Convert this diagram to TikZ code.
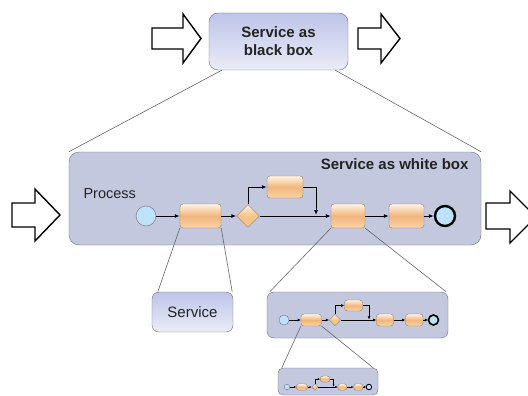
\documentclass[tikz,border=0pt]{standalone}
\usepackage{fontspec}
\setmainfont{Liberation Sans}
\usetikzlibrary{shapes.geometric,arrows.meta}

\definecolor{boxfill} {RGB}{196,200,222}
\definecolor{boxtop}  {RGB}{190,196,232}
\definecolor{boxbot}  {RGB}{234,236,247}
\definecolor{rim}     {RGB}{110,110,122}
\definecolor{taskmid} {RGB}{240,182,124}
\definecolor{tasklite}{RGB}{255,244,228}
\definecolor{taskbot} {RGB}{249,212,168}
\definecolor{taskrim} {RGB}{140,124,108}
\definecolor{gatefill}{RGB}{244,196,136}
\definecolor{evfill}  {RGB}{190,226,250}
\definecolor{lens}    {RGB}{100,100,100}
\definecolor{ink}     {RGB}{35,35,35}

\tikzset{
  task/.style={draw=taskrim, rounded corners=3pt, inner sep=0pt,
    top color=tasklite, bottom color=taskbot, middle color=taskmid},
  gate/.style={diamond, draw=taskrim, top color=tasklite, bottom color=gatefill,
    middle color=gatefill, inner sep=0pt, minimum width=23pt, minimum height=23pt},
  startev/.style={circle, draw=rim, fill=evfill, inner sep=0pt, minimum size=20pt},
  endrim/.style={line width=2.4pt},
  endev/.style={circle, draw=black, endrim, fill=evfill, inner sep=0pt, minimum size=20pt},
  flow/.style={-{Latex[length=5pt,width=4pt]}, line width=1pt},
  process/.pic={
    \node[startev] (-s) at (0,0) {};
    \node[task, minimum width=41pt, minimum height=24pt] (-t1) at (54.5,0) {};
    \node[gate] (-g) at (102,0) {};
    \node[task, minimum width=36pt, minimum height=22pt] (-tu) at (139,-29) {};
    \node[task, minimum width=34pt, minimum height=24pt] (-t2) at (202,0) {};
    \node[task, minimum width=35pt, minimum height=24pt] (-t3) at (260.5,0) {};
    \node[endev] (-e) at (299,0) {};
    \coordinate (-j) at (170,-1);
    \draw[flow] (-s) -- (-t1);
    \draw[flow] (-t1) -- (-g);
    \draw[flow] (-g) -- (-t2);
    \draw[flow] (-g.north) |- (-tu);
    \draw[flow] (-tu) -| (-j);
    \draw[flow] (-t2) -- (-t3);
    \draw[flow] (-t3) -- (-e);
  }
}

\begin{document}
\begin{tikzpicture}[x=1pt, y=-1pt,
    softbox/.style={draw=rim, rounded corners=9pt, top color=boxtop, bottom color=boxbot,
      text=ink, align=center},
    plainbox/.style={draw=rim, rounded corners=10pt, fill=boxfill},
    fat/.style={draw=black, line width=1.4pt, fill=white, line join=miter},
    zoomline/.style={draw=lens, line width=0.6pt}]
  \useasboundingbox (0,0) rectangle (528,396);
  \clip (0,0) rectangle (528,396);

  % black box and its in/out arrows
  \node[softbox, minimum width=139pt, minimum height=57pt,
        font=\bfseries\fontsize{15}{18}\selectfont] (blackbox) at (278.5,41.5) {Service as\\black box};
  \draw[fat] (152,28) -- (183,28) -- (183,14) -- (201,38.5) -- (183,63) -- (183,49) -- (152,49) -- cycle;
  \draw[fat] (358,28) -- (381,28) -- (381,14) -- (400,38.5) -- (381,63) -- (381,49) -- (358,49) -- cycle;

  % white box
  \node[plainbox, minimum width=412pt, minimum height=93pt] (whitebox) at (275,198.5) {};
  \node[anchor=east, text=ink, font=\bfseries\fontsize{15}{18}\selectfont] (wbtitle) at (472,164) {Service as white box};
  \node[anchor=west, text=ink, font=\fontsize{14.5}{17}\selectfont] (proclabel) at (80,194) {Process};
  \draw[fat] (12,203) -- (35,203) -- (35,189) -- (60,215) -- (35,241) -- (35,227) -- (12,227) -- cycle;
  \draw[fat] (486,203) -- (510,203) -- (510,191) -- (536,217) -- (510,243) -- (510,229) -- (486,229) -- cycle;
  \pic (main) at (146,216) {process};

  % zoomed parts
  \node[softbox, rounded corners=7pt, minimum width=81pt, minimum height=40pt,
        font=\fontsize{15}{18}\selectfont] (service) at (192.5,312) {Service};
  \node[plainbox, rounded corners=7pt, minimum width=181pt, minimum height=46pt] (subbox) at (357.5,315) {};
  \pic[scale=0.5, transform shape, endrim/.style={line width=1.6pt},
       flow/.style={-{Latex[length=3.2pt,width=2.8pt]}, line width=0.8pt}] (sub) at (284,320) {process};
  \node[plainbox, rounded corners=5pt, minimum width=100pt, minimum height=27pt] (subsubbox) at (328,381.5) {};
  \pic[scale=0.274, transform shape, endrim/.style={line width=0.9pt},
       flow/.style={-{Latex[length=2.2pt,width=2pt]}, line width=0.6pt}] (subsub) at (287,387) {process};

  % zoom lines
  \draw[zoomline] ([xshift=13pt]blackbox.south west) -- (whitebox.north west);
  \draw[zoomline] ([xshift=-13pt]blackbox.south east) -- (whitebox.north east);
  \draw[zoomline] (main-t1.south west) -- ([xshift=6pt]service.north west);
  \draw[zoomline] (main-t1.south east) -- ([xshift=-1pt]service.north east);
  \draw[zoomline] (main-t2.south west) -- ([xshift=3pt]subbox.north west);
  \draw[zoomline] (main-t2.south east) -- ([xshift=-2pt]subbox.north east);
  \draw[zoomline] (sub-t1.south west) -- ([xshift=4pt]subsubbox.north west);
  \draw[zoomline] (sub-t1.south east) -- ([xshift=-5pt]subsubbox.north east);
\end{tikzpicture}
\end{document}
